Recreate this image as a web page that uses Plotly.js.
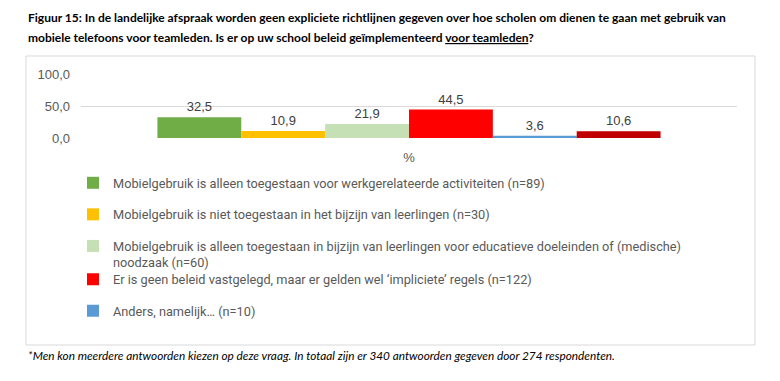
<!DOCTYPE html>
<html><head><meta charset="utf-8">
<script src="https://cdn.plot.ly/plotly-3.0.1.min.js"></script>
<style>html,body{margin:0;padding:0;background:#fff}</style>
</head><body><div id="chart" style="width:780px;height:381px"></div>
<script>
const category = ['%'];
const seriesNames = [
  'Mobielgebruik is alleen toegestaan voor werkgerelateerde activiteiten (n=89)',
  'Mobielgebruik is niet toegestaan in het bijzijn van leerlingen (n=30)',
  'Mobielgebruik is alleen toegestaan in bijzijn van leerlingen voor educatieve doeleinden of (medische)<br>noodzaak (n=60)',
  'Er is geen beleid vastgelegd, maar er gelden wel \u2018impliciete\u2019 regels (n=122)',
  'Anders, namelijk\u2026 (n=10)',
  'Overig'
];
const seriesValues = [32.5, 10.9, 21.9, 44.5, 3.6, 10.6];
const seriesColors = ['#70AD47', '#FFC000', '#C5E0B4', '#FF0000', '#5B9BD5', '#C00000'];
const seriesLegend = ['legend', 'legend', 'legend', 'legend2', 'legend2', 'legend2'];
const seriesInLegend = [true, true, true, true, true, false];
const yTickValues = [0, 50, 100];
const titleLine1 = 'Figuur 15: In de landelijke afspraak worden geen expliciete richtlijnen gegeven over hoe scholen om dienen te gaan met gebruik van';
const titleLine2 = 'mobiele telefoons voor teamleden. Is er op uw school beleid ge\u00efmplementeerd <u>voor teamleden</u>?';
const footnote = '*Men kon meerdere antwoorden kiezen op deze vraag. In totaal zijn er 340 antwoorden gegeven door 274 respondenten.';

const W = 780, H = 381;
const mL = 81, mR = 43, mT = 74, mB = 243;
const pw = W - mL - mR, ph = H - mT - mB;
const px2x = p => (p - mL) / pw;
const py2y = p => (H - mB - p) / ph;

const traces = seriesValues.map((v, i) => ({
  type: 'bar',
  x: category,
  y: [v],
  name: seriesNames[i],
  marker: {color: seriesColors[i]},
  texttemplate: '%{y:.1f}',
  textposition: 'outside',
  cliponaxis: false,
  textfont: {family: 'Liberation Sans, Arial, sans-serif', size: 13, color: '#404040'},
  legend: seriesLegend[i],
  legendgroup: 'g' + i,
  showlegend: seriesInLegend[i],
  hoverinfo: 'none'
}));

const legendFont = {family: 'Roboto, sans-serif', size: 12.75, color: '#595959'};
const legendCommon = {xref: 'container', yref: 'container', x: 73 / W, xanchor: 'left', yanchor: 'top',
  orientation: 'v', traceorder: 'grouped', tracegroupgap: 12, valign: 'top',
  bgcolor: 'rgba(0,0,0,0)', font: legendFont, itemclick: false, itemdoubleclick: false};
const layout = {
  width: W, height: H,
  margin: {l: mL, r: mR, t: mT, b: mB, pad: 0, autoexpand: false},
  paper_bgcolor: '#fff', plot_bgcolor: '#fff',
  separators: ',.',
  barmode: 'group', bargap: 0.233, bargroupgap: 0,
  xaxis: {type: 'category', showgrid: false, showline: false, zeroline: false, ticks: '',
    tickfont: {family: 'Liberation Sans, Arial, sans-serif', size: 13, color: '#595959'},
    ticklabelstandoff: 10, fixedrange: true},
  yaxis: {range: [0, 100], tickvals: yTickValues, tickformat: '.1f', showgrid: true,
    gridcolor: '#D9D9D9', gridwidth: 1, zeroline: false, showline: false, ticks: '',
    tickfont: {family: 'Liberation Sans, Arial, sans-serif', size: 13, color: '#595959'},
    ticklabelstandoff: 10, fixedrange: true},
  legend: Object.assign({}, legendCommon, {y: 1 - 168 / H}),
  legend2: Object.assign({}, legendCommon, {y: 1 - 264.5 / H}),
  shapes: [{type: 'rect', xref: 'paper', yref: 'paper', x0: px2x(26), x1: px2x(755), y0: py2y(56), y1: py2y(345),
    line: {color: '#D9D9D9', width: 1}, fillcolor: 'rgba(0,0,0,0)', layer: 'below'}],
  annotations: [
    {text: titleLine1, xref: 'paper', yref: 'paper', x: px2x(26), y: py2y(17), xanchor: 'left', yanchor: 'middle',
      showarrow: false, font: {family: 'Lato, sans-serif', size: 12, color: '#000', weight: 'bold'}},
    {text: titleLine2, xref: 'paper', yref: 'paper', x: px2x(26), y: py2y(37), xanchor: 'left', yanchor: 'middle',
      showarrow: false, font: {family: 'Lato, sans-serif', size: 12, color: '#000', weight: 'bold'}},
    {text: '<i>' + footnote + '</i>', xref: 'paper', yref: 'paper', x: px2x(26), y: py2y(355), xanchor: 'left', yanchor: 'middle',
      showarrow: false, font: {family: 'Lato, sans-serif', size: 11.8, color: '#000'}}
  ]
};
Plotly.newPlot('chart', traces, layout, {displayModeBar: false, staticPlot: true});
</script></body></html>
